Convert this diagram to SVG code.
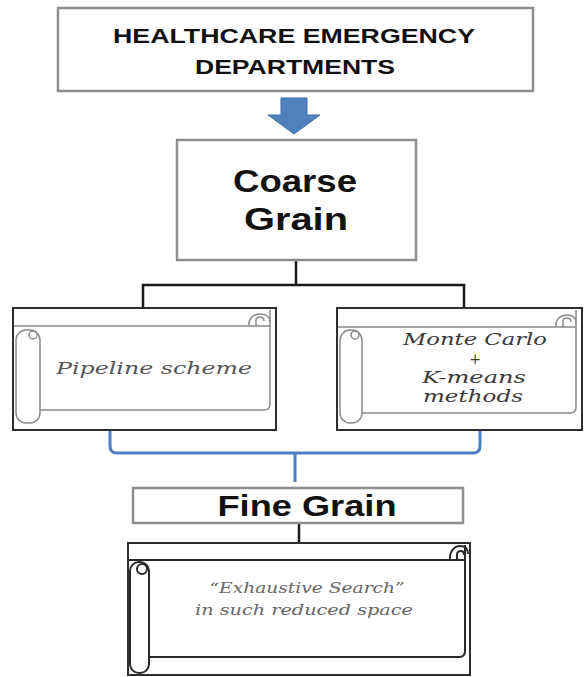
<svg xmlns="http://www.w3.org/2000/svg" width="584" height="677" viewBox="0 0 584 677">
  <style>
    .box { fill: #ffffff; stroke: #8e8e8e; stroke-width: 2.5; }
    .frame { fill: #ffffff; stroke: #2e2e2e; stroke-width: 2; }
    .sheet { fill: none; stroke: #8a8a8a; stroke-width: 1.5; }
    .sheet-dark { fill: none; stroke: #2a2a2a; stroke-width: 2; }
    .conn { fill: none; stroke: #1a1a1a; stroke-width: 2.5; }
    .brace { fill: none; stroke: #4f7fc2; stroke-width: 3; stroke-linejoin: round; }
    .head { font-family: "Liberation Sans", Arial, sans-serif; font-weight: bold; fill: #111; text-anchor: middle; }
    .note { font-family: "DejaVu Serif", "Liberation Serif", serif; font-style: italic; text-anchor: middle; }
  </style>

  <rect width="584" height="677" fill="#ffffff"/>

  <!-- connectors -->
  <g id="connectors">
    <polygon points="281,98 307,98 307,115 320,115 294,134 268,115 281,115" fill="#4f81bd" stroke="#3f6fa8" stroke-width="1"/>
    <path class="conn" d="M296 260 V285 M143 308 V285 H464 V308"/>
    <path class="brace" d="M110 430 V446 Q110 453 117 453 H473 Q480 453 480 446 V430 M295 453 V482"/>
    <path class="conn" d="M299 523 V543"/>
  </g>

  <!-- source node -->
  <g id="node-ed">
    <rect class="box" x="58" y="8" width="475" height="83"/>
    <text class="head" x="294" y="43" font-size="21" textLength="362" lengthAdjust="spacingAndGlyphs">HEALTHCARE  EMERGENCY</text>
    <text class="head" x="295" y="74" font-size="21" textLength="200" lengthAdjust="spacingAndGlyphs">DEPARTMENTS</text>
  </g>

  <!-- coarse level -->
  <g id="node-coarse">
    <rect class="box" x="177" y="140" width="239" height="120"/>
    <text class="head" x="295" y="192" font-size="31" textLength="124" lengthAdjust="spacingAndGlyphs">Coarse</text>
    <text class="head" x="296" y="230" font-size="31" textLength="104" lengthAdjust="spacingAndGlyphs">Grain</text>
  </g>

  <!-- scroll: pipeline -->
  <g id="node-pipeline">
    <rect class="frame" x="13" y="308" width="263" height="122"/>
    <path class="sheet" d="M14 326 H270 M270 310 V404 Q270 410 264 410 H40"/>
    <path class="sheet" d="M249 326 C248 318 254 314 260 314 C266 314 270 317 270 322 M256 326 V320 Q256 317 260 317 Q264 317 264 321"/>
    <rect class="sheet" x="16" y="330" width="24" height="93" rx="10"/>
    <circle class="sheet" cx="33" cy="335" r="4"/>
    <text class="note" x="154" y="374" font-size="17" fill="#555" textLength="196" lengthAdjust="spacingAndGlyphs">Pipeline scheme</text>
  </g>

  <!-- scroll: monte carlo -->
  <g id="node-montecarlo">
    <rect class="frame" x="337" y="308" width="245" height="122"/>
    <path class="sheet" d="M338 327 H576 M576 310 V407 Q576 413 570 413 H362"/>
    <path class="sheet" d="M556 327 C555 319 561 315 567 315 C573 315 576 318 576 323 M563 327 V321 Q563 318 567 318 Q571 318 571 322"/>
    <rect class="sheet" x="340" y="330" width="22" height="93" rx="10"/>
    <circle class="sheet" cx="355" cy="335" r="4"/>
    <text class="note" x="475" y="345" font-size="16" fill="#3a3a3a" textLength="144" lengthAdjust="spacingAndGlyphs">Monte Carlo</text>
    <text class="note" x="475" y="364" font-size="14" fill="#3a3a3a">+</text>
    <text class="note" x="474" y="383" font-size="16" fill="#3a3a3a" textLength="104" lengthAdjust="spacingAndGlyphs">K-means</text>
    <text class="note" x="473" y="402" font-size="16" fill="#3a3a3a" textLength="100" lengthAdjust="spacingAndGlyphs">methods</text>
  </g>

  <!-- fine level -->
  <g id="node-fine">
    <rect class="box" x="133" y="488" width="330" height="35"/>
    <text class="head" x="307" y="516" font-size="30" textLength="179" lengthAdjust="spacingAndGlyphs">Fine Grain</text>
  </g>

  <!-- scroll: exhaustive search -->
  <g id="node-exhaustive">
    <rect class="frame" x="128" y="543" width="342" height="132" stroke-width="2.5"/>
    <path class="sheet-dark" d="M129 560 H465 M465 545 V651 Q465 657 459 657 H149"/>
    <path class="sheet-dark" d="M450 560 C449 551 455 546 460 546 C465 546 468 549 468 554 M457 560 V555 Q457 551 461 551 Q464 551 464 555"/>
    <rect class="sheet-dark" x="130" y="562" width="19" height="111" rx="9"/>
    <circle class="sheet-dark" cx="142" cy="569" r="5"/>
    <text class="note" x="307" y="593" font-size="14" fill="#666" textLength="195" lengthAdjust="spacingAndGlyphs">“Exhaustive Search”</text>
    <text class="note" x="304" y="615" font-size="14" fill="#666" textLength="218" lengthAdjust="spacingAndGlyphs">in such reduced  space</text>
  </g>
</svg>
